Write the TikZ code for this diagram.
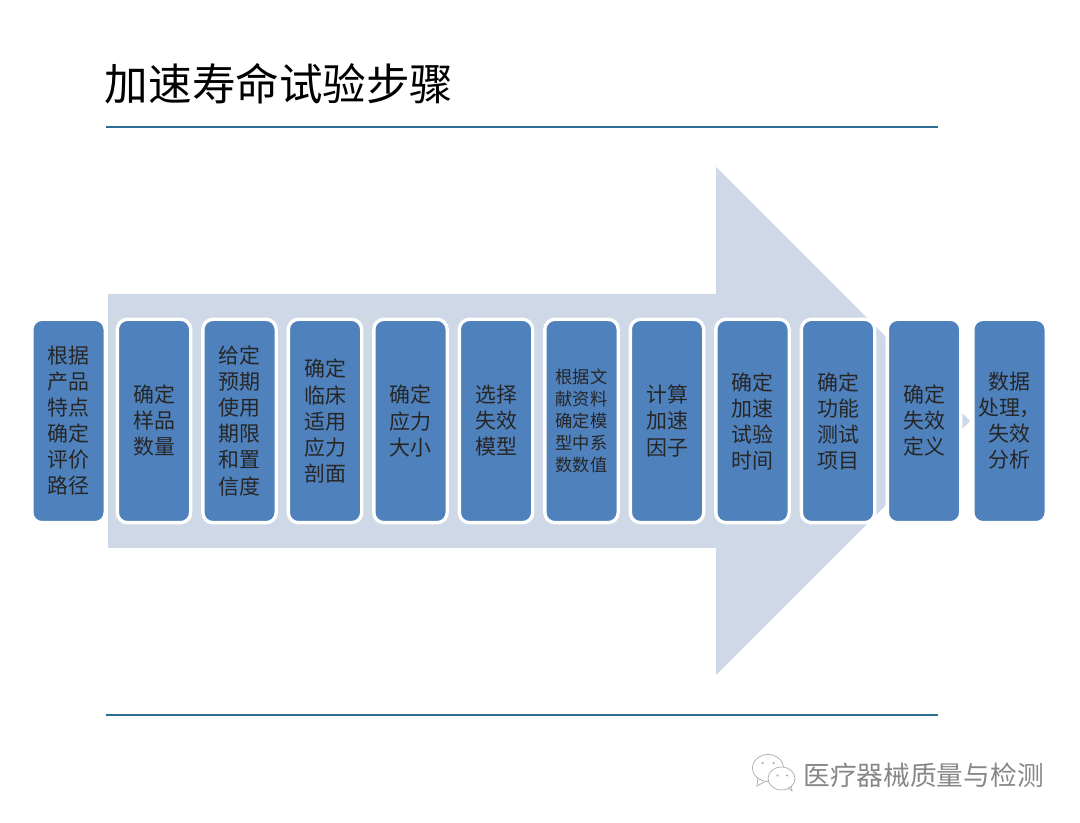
\documentclass[tikz,border=0pt]{standalone}
\usepackage{fontspec}
\setmainfont{Noto Sans CJK SC}
\usepackage{tikz}
\usetikzlibrary{positioning}
\definecolor{azulCaja}{RGB}{79,129,189}
\definecolor{azulFlecha}{RGB}{206,216,231}
\definecolor{azulLinea}{RGB}{47,108,146}
\definecolor{grisMarca}{RGB}{135,135,135}

\begin{document}
\begin{tikzpicture}[
      stage/.style = {rectangle, rounded corners=0.2cm, minimum width=1.466cm, minimum height=4.066cm,
          inner sep=0pt, draw=white, line width=0.066cm, fill=azulCaja, align=center,
          font=\fontsize{11.9}{14.8}\selectfont, text=black!85},
      stagesmall/.style = {stage, font=\fontsize{9.8}{12.6}\selectfont},
      rule/.style  = {color=azulLinea, line width=1.2pt},
      bubble/.style = {draw=grisMarca!70, fill=white, line width=0.4pt},
      eye/.style = {fill=grisMarca!70},
    ]
    \useasboundingbox (0,0) rectangle (21.6,16.46);

    % ── Titulo y reglas ──────────────────────────────────────────
    \node[anchor=west,inner sep=0pt,font=\fontsize{24.8}{30}\selectfont] (title) at (2.09,14.78) {加速寿命试验步骤};
    \coordinate (ruleTopL) at (2.12,13.92);
    \coordinate (ruleTopR) at (18.76,13.92);
    \coordinate (ruleBotL) at (2.12,2.16);
    \coordinate (ruleBotR) at (18.76,2.16);
    \draw[rule] (ruleTopL) -- (ruleTopR);
    \draw[rule] (ruleBotL) -- (ruleBotR);

    % ── Flecha de fondo ──────────────────────────────────────────
    \fill[azulFlecha] (2.16,10.58) -- (14.32,10.58) -- (14.32,13.12) -- (19.4,8.04)
        -- (14.32,2.96) -- (14.32,5.5) -- (2.16,5.5) -- cycle;

    % ── Pasos ────────────────────────────────────────────────────
    \node[stage]      (s1)  at (1.37,8.04)  {根据\\产品\\特点\\确定\\评价\\路径};
    \node[stage]      (s2)  at (3.08,8.04)  {确定\\样品\\数量};
    \node[stage]      (s3)  at (4.79,8.04)  {给定\\预期\\使用\\期限\\和置\\信度};
    \node[stage]      (s4)  at (6.5,8.04)   {确定\\临床\\适用\\应力\\剖面};
    \node[stage]      (s5)  at (8.21,8.04)  {确定\\应力\\大小};
    \node[stage]      (s6)  at (9.92,8.04)  {选择\\失效\\模型};
    \node[stagesmall] (s7)  at (11.63,8.04) {根据文\\献资料\\确定模\\型中系\\数数值};
    \node[stage]      (s8)  at (13.34,8.04) {计算\\加速\\因子};
    \node[stage]      (s9)  at (15.05,8.04) {确定\\加速\\试验\\时间};
    \node[stage]      (s10) at (16.76,8.04) {确定\\功能\\测试\\项目};
    \node[stage]      (s11) at (18.48,8.04) {确定\\失效\\定义};
    \node[stage]      (s12) at (20.19,8.04) {数据\\处理，\\失效\\分析};

    % ── Marca de agua ────────────────────────────────────────────
    \draw[bubble] (15.16,0.94) -- (15.14,0.74) -- (15.36,0.86) -- cycle;
    \draw[bubble] (15.36,1.1) ellipse (0.31 and 0.27);
    \draw[bubble] (15.72,0.74) -- (15.84,0.64) -- (15.82,0.82) -- cycle;
    \draw[bubble] (15.63,0.89) ellipse (0.27 and 0.23);
    \fill[eye] (15.25,1.2) circle (0.025);
    \fill[eye] (15.47,1.2) circle (0.025);
    \fill[eye] (15.55,0.95) circle (0.022);
    \fill[eye] (15.74,0.95) circle (0.022);
    \node[anchor=west,inner sep=0pt,text=grisMarca,font=\fontsize{15.2}{18}\selectfont] (mark) at (16.06,0.96) {医疗器械质量与检测};
\end{tikzpicture}
\end{document}
